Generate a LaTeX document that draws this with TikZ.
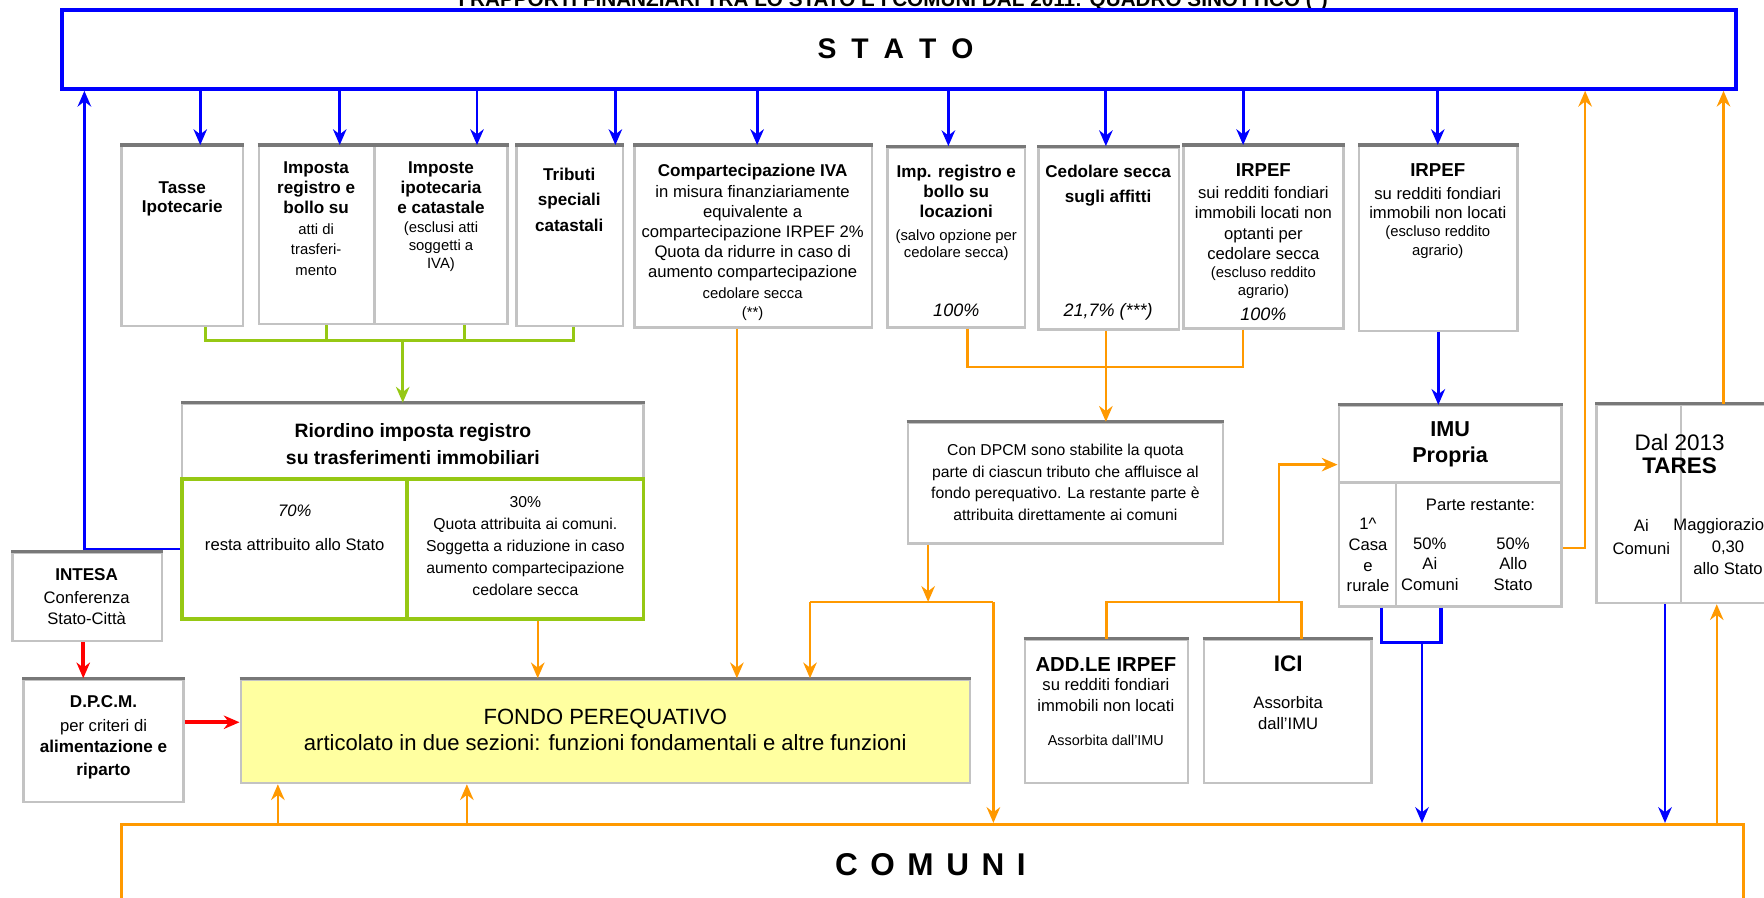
\documentclass[tikz,border=0pt]{standalone}
\usepackage{fontspec}
\setmainfont{Liberation Sans}
\usetikzlibrary{arrows.meta,fit}
\definecolor{blu}{RGB}{0,0,255}
\definecolor{arancio}{RGB}{255,153,0}
\definecolor{verde}{RGB}{150,200,20}
\definecolor{rosso}{RGB}{255,0,0}
\definecolor{giallo}{RGB}{255,255,160}
\definecolor{bordo}{RGB}{195,195,195}
\definecolor{bordoalto}{RGB}{120,120,120}
\tikzset{
  cella/.style={draw=bordo,line width=1.1pt,inner sep=0pt},
  alto/.style={draw=bordoalto,line width=1.4pt},
  tx/.style={align=center,inner sep=0pt,anchor=base},
  tn/.style={tx,font=\fontsize{7.4}{#1}\selectfont},
  tn/.default=9,
  tb/.style={tx,font=\fontsize{7.6}{#1}\selectfont\bfseries},
  tb/.default=9,
  ts/.style={tx,font=\fontsize{6.6}{#1}\selectfont},
  ts/.default=8,
  ti/.style={tx,font=\fontsize{8}{9}\selectfont\itshape},
  fb/.style={blu,line width=1.3pt,-{Stealth[length=7pt,width=6pt]}},
  lb/.style={blu,line width=1.6pt},
  fo/.style={arancio,line width=1.1pt,-{Stealth[length=7pt,width=6pt]}},
  lo/.style={arancio,line width=1.1pt},
  lv/.style={verde,line width=1.4pt},
  fv/.style={lv,-{Stealth[length=7pt,width=6pt]}},
  fr/.style={rosso,line width=1.8pt,-{Stealth[length=7pt,width=6pt]}}
}
\begin{document}
\begin{tikzpicture}[x=0.5pt,y=-0.5pt]
\useasboundingbox (0,0) rectangle (1568,798);
\clip (0,0) rectangle (1568,798);
\node[tx,font=\fontsize{9.2}{10}\selectfont\bfseries] (titolo) at (794,6) {I RAPPORTI FINANZIARI TRA LO STATO E I COMUNI DAL 2011: QUADRO SINOTTICO (*)};
\node[draw=blu,line width=1.7pt,inner sep=0pt,fit={(55,9)(1543,79)}] (stato) {};
\node[font=\fontsize{12.6}{14}\selectfont\bfseries\addfontfeature{LetterSpace=25}] (statoT) at (796,43) {S T A T O};

\node[cella,fit={(108,130)(216,290)}] (tasse) {};
\node[cella,fit={(230,130)(333,288)}] (atti) {};
\node[cella,fit={(333,130)(451,288)}] (ipocat) {};
\node[cella,fit={(459,130)(554,290)}] (tributi) {};
\node[cella,fit={(564,130)(775,291)}] (compiva) {};
\node[cella,fit={(789,131)(911,291)}] (locaz) {};
\node[cella,fit={(923,131)(1048,293)}] (cedolare) {};
\node[cella,fit={(1052,130)(1194,292)}] (irpefloc) {};
\node[cella,fit={(1208,130)(1349,294)}] (irpefnon) {};
\node[cella,fit={(162,359)(572,426)}] (riordino) {};
\node[cella,draw=verde,line width=1.6pt,fit={(162,426)(362,550)}] (settanta) {};
\node[cella,draw=verde,line width=1.6pt,fit={(362,426)(572,550)}] (trenta) {};
\node[cella,fit={(11,491)(144,570)}] (intesa) {};
\node[cella,fit={(21,604)(163,713)}] (dpcm) {};
\node[cella,fill=giallo,fit={(214,604)(862,696)}] (fondo) {};
\node[cella,fit={(807,376)(1087,483)}] (quota) {};
\node[cella,fit={(911,569)(1056,696)}] (addirpef) {};
\node[cella,fit={(1070,569)(1219,696)}] (ici) {};
\node[cella,fit={(1190,361)(1388,429)}] (imu) {};
\node[cella,fit={(1190,429)(1241,539)}] (casa) {};
\node[cella,fit={(1241,429)(1388,539)}] (restante) {};
\node[cella,fit={(1419,360)(1494,536)}] (tares) {};
\node[cella,fit={(1494,360)(1620,536)}] (maggior) {};
\node[draw=arancio,line width=1.5pt,inner sep=0pt,fit={(108,733)(1550,840)}] (comuni) {};
\foreach \n in {tasse,atti,ipocat,tributi,compiva,locaz,cedolare,irpefloc,irpefnon,riordino,intesa,dpcm,fondo,quota,addirpef,ici,imu,tares,maggior}
  \draw[alto] (\n.north west) -- (\n.north east);

\node[tb=8.3] (tasseT) at (162,189) {Tasse\\Ipotecarie};
\node[tb] (attiT) at (281,190) {Imposta\\registro e\\bollo su};
\node[ts=9.2] (attiS) at (281,245) {atti di\\trasferi-\\mento};
\node[tb] (ipocatT) at (392,190) {Imposte\\ipotecaria\\e catastale};
\node[ts] (ipocatS) at (392,239) {(esclusi atti\\soggetti a\\IVA)};
\node[tb=11.5] (tributiT) at (506,206) {Tributi\\speciali\\catastali};
\node[tb] (compivaT) at (669,157) {Compartecipazione IVA};
\node[tn=8.9] (compivaS) at (669,247) {in misura finanziariamente\\equivalente a\\compartecipazione IRPEF 2\%\\Quota da ridurre  in caso di\\aumento compartecipazione};
\node[ts=8.5] (compivaC) at (669,282) {cedolare secca\\(**)};
\node[tb=8.7] (locazT) at (850,193) {Imp. registro e\\bollo su\\locazioni};
\node[ts=7.7] (locazS) at (850,229) {(salvo opzione  per\\cedolare secca)};
\node[ti] (locazP) at (850,281) {100\%};
\node[tb=11] (cedolareT) at (985,180) {Cedolare secca\\sugli affitti};
\node[ti] (cedolareP) at (985,281) {21,7\% (***)};
\node[tx,font=\fontsize{8.3}{9}\selectfont\bfseries] (irpeflocT) at (1123,157) {IRPEF};
\node[tn=9.1] (irpeflocS) at (1123,231) {sui redditi fondiari\\immobili locati non\\optanti per\\cedolare secca};
\node[ts] (irpeflocA) at (1123,263) {(escluso reddito\\agrario)};
\node[ti] (irpeflocP) at (1123,285) {100\%};
\node[tx,font=\fontsize{8.3}{9}\selectfont\bfseries] (irpefnonT) at (1278,157) {IRPEF};
\node[tn=8.3] (irpefnonS) at (1278,194) {su redditi fondiari\\immobili non locati};
\node[ts=8.5] (irpefnonA) at (1278,227) {(escluso reddito\\agrario)};

\node[tx,font=\fontsize{8.6}{12}\selectfont\bfseries] (riordinoT) at (367,413) {Riordino imposta registro\\su trasferimenti immobiliari};
\node[tx,font=\fontsize{7.4}{9}\selectfont\itshape] (settantaP) at (262,459) {70\%};
\node[tn] (settantaT) at (262,489) {resta attribuito  allo Stato};
\node[tx,font=\fontsize{7}{9.7}\selectfont] (trentaT) at (467,529) {30\%\\Quota attribuita ai comuni.\\Soggetta a riduzione in caso\\aumento compartecipazione\\cedolare secca};
\node[tb] (intesaT) at (77,516) {INTESA};
\node[tn=9.5] (intesaS) at (77,555) {Conferenza\\Stato-Città};
\node[tb] (dpcmT) at (92,629) {D.P.C.M.};
\node[tn] (dpcmS) at (92,650) {per criteri di};
\node[tb=10] (dpcmB) at (92,689) {alimentazione e\\riparto};
\node[tx,font=\fontsize{9.8}{11.5}\selectfont] (fondoT) at (538,667) {FONDO PEREQUATIVO\\articolato in due sezioni: funzioni fondamentali e altre funzioni};
\node[tx,font=\fontsize{7}{9.75}\selectfont] (quotaT) at (947,463) {Con DPCM sono stabilite la quota\\parte di ciascun tributo che affluisce al\\fondo perequativo. La restante parte è\\attribuita direttamente ai comuni};
\node[tx,font=\fontsize{9}{11}\selectfont\bfseries] (addirpefT) at (983,597) {ADD.LE IRPEF};
\node[tn] (addirpefS) at (983,632) {su redditi fondiari\\immobili non locati};
\node[tx,font=\fontsize{6.4}{8}\selectfont] (addirpefA) at (983,663) {Assorbita dall'IMU};
\node[tx,font=\fontsize{10}{12}\selectfont\bfseries] (iciT) at (1145,597) {ICI};
\node[tn] (iciS) at (1145,648) {Assorbita\\dall'IMU};
\node[tx,font=\fontsize{9.6}{11.5}\selectfont\bfseries] (imuT) at (1289,411) {IMU\\Propria};
\node[tn=9.2] (casaT) at (1216,526) {1\textasciicircum\\Casa\\e\\rurale};
\node[tn] (restanteT) at (1316,454) {Parte restante:};
\node[tn=9.2] (comuniImu) at (1271,525) {50\%\\Ai\\Comuni};
\node[tn=9.2] (statoImu) at (1345,525) {50\%\\Allo\\Stato};
\node[tx,font=\fontsize{10}{11}\selectfont] (taresD) at (1493,400) {Dal 2013};
\node[tx,font=\fontsize{10}{11}\selectfont\bfseries] (taresT) at (1493,421) {TARES};
\node[tn=10.5] (taresA) at (1459,493) {Ai\\Comuni};
\node[tn=9.8] (taresM) at (1536,511) {Maggiorazione\\0,30\\allo Stato};
\node[font=\fontsize{14}{16}\selectfont\bfseries\addfontfeature{LetterSpace=12}] (comuniT) at (827,769) {C O M U N I};

\foreach \n/\x in {tasse/178,atti/302,ipocat/424,tributi/547,compiva/673,locaz/843,cedolare/983,irpefloc/1105,irpefnon/1278}
  \draw[fb] (stato.south -| \x,0) -- (\n.north -| \x,0);
\coordinate (gv) at (358,303);
\foreach \n/\x in {tasse/183,atti/290,ipocat/413,tributi/510}
  \draw[lv] (\n.south -| \x,0) |- (gv);
\draw[fv] (gv) -- (gv |- riordino.north);
\draw[fb] (settanta.west) -| (stato.south -| 75,0);
\draw[fr] (intesa.south -| 74,0) -- (dpcm.north -| 74,0);
\draw[fr] (dpcm.east |- 0,642) -- (fondo.west |- 0,642);
\draw[fo] (trenta.south -| 478,0) -- (fondo.north -| 478,0);
\draw[fo] (compiva.south -| 655,0) -- (fondo.north -| 655,0);
\coordinate (go) at (983,326);
\foreach \n/\x in {locaz/860,cedolare/983,irpefloc/1105}
  \draw[lo] (\n.south -| \x,0) |- (go);
\draw[fo] (go) -- (go |- quota.north);
\coordinate (ga) at (720,535);
\coordinate (gb) at (883,535);
\draw[lo] (ga) -- (gb);
\draw[fo] (quota.south -| 825,0) -- (ga -| 825,0);
\draw[fo] (ga) -- (ga |- fondo.north);
\draw[fo] (gb) -- (gb |- comuni.north);
\coordinate (gc) at (1137,535);
\draw[lo] (addirpef.north) |- (gc);
\draw[lo] (ici.north -| 1157,0) |- (gc);
\draw[fo] (gc) |- (imu.west |- 0,413);
\draw[fo] (restante.east |- 0,487) -| (stato.south -| 1409,0);
\draw[fo] (comuni.north -| 247,0) -- (fondo.south -| 247,0);
\draw[fo] (comuni.north -| 415,0) -- (fondo.south -| 415,0);
\draw[fo] (comuni.north -| 1526,0) -- (maggior.south -| 1526,0);
\draw[fo] (maggior.north -| 1532,0) -- (stato.south -| 1532,0);
\draw[fb] (irpefnon.south) -- (irpefnon.south |- imu.north);
\coordinate (gi) at (1264,571);
\draw[lb] (casa.south -| 1228,0) |- (gi);
\draw[lb] (restante.south -| 1281,0) |- (gi);
\draw[fb] (gi) -- (gi |- comuni.north);
\draw[fb] (tares.south -| 1480,0) -- (comuni.north -| 1480,0);
\end{tikzpicture}
\end{document}
